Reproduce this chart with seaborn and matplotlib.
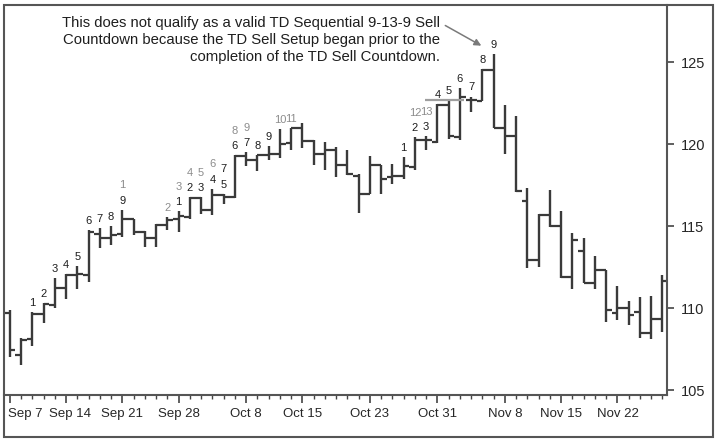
import numpy as np
import pandas as pd
import seaborn as sns
import matplotlib
matplotlib.use("Agg")
import matplotlib.pyplot as plt
from matplotlib.patches import Rectangle

# daily OHLC, one entry per trading day
opens = [109.69, 107.13, 108.09, 109.63, 110.18, 111.25, 112.00, 112.00, 114.54, 114.30,
         114.50, 115.41, 114.64, 114.30, 115.05, 115.44, 115.55, 116.74, 116.00, 116.88,
         116.77, 119.27, 119.05, 119.31, 119.37, 120.06, 120.97, 120.18, 119.37, 119.66,
         118.70, 118.03, 116.98, 118.70, 117.99, 118.05, 118.60, 120.23, 120.12, 122.36,
         120.43, 122.70, 122.62, 124.53, 121.00, 120.47, 116.53, 112.92, 115.66, 114.99,
         111.90, 113.48, 111.53, 112.35, 109.71, 110.01, 109.77, 108.45, 109.34]
highs = [109.91, 108.17, 109.77, 110.28, 111.86, 112.05, 112.55, 114.74, 114.88, 114.99,
         116.00, 115.46, 114.68, 115.11, 115.55, 115.90, 116.77, 116.77, 117.28, 116.98,
         119.31, 119.51, 119.35, 119.86, 120.94, 121.00, 121.28, 120.27, 120.12, 119.82,
         119.66, 118.20, 119.25, 118.70, 118.81, 119.21, 120.43, 120.47, 122.42, 122.66,
         123.44, 122.90, 124.59, 125.52, 122.36, 121.69, 117.34, 115.72, 117.22, 115.90,
         114.58, 114.30, 113.16, 112.35, 111.33, 110.44, 110.68, 110.72, 112.00]
lows = [107.01, 106.52, 107.68, 109.10, 109.98, 110.58, 111.19, 111.60, 113.67, 113.83,
        114.34, 114.44, 113.73, 113.73, 114.74, 114.65, 115.46, 115.72, 115.66, 116.33,
        116.74, 118.64, 118.34, 119.00, 119.17, 119.62, 119.78, 118.70, 118.40, 117.99,
        118.10, 115.78, 116.94, 116.94, 117.59, 117.89, 118.44, 119.62, 120.06, 120.33,
        120.27, 121.95, 122.62, 120.96, 119.42, 117.08, 112.47, 112.51, 114.95, 111.86,
        111.19, 111.50, 111.19, 109.16, 109.26, 108.96, 108.15, 108.09, 108.55]
closes = [107.44, 108.08, 109.63, 110.22, 111.25, 112.00, 112.05, 114.64, 114.30, 114.44,
          115.41, 114.64, 114.30, 115.05, 115.40, 115.63, 116.74, 116.00, 116.92, 116.77,
          119.25, 119.05, 119.35, 119.42, 120.02, 120.97, 120.18, 119.37, 119.66, 118.70,
          118.20, 116.95, 118.70, 117.89, 118.05, 118.66, 120.23, 120.23, 122.36, 120.47,
          122.86, 122.66, 124.53, 120.99, 120.47, 117.12, 112.92, 115.66, 114.99, 111.90,
          114.14, 111.53, 112.35, 109.87, 110.01, 109.57, 108.45, 109.34, 111.66]

date_ticks = [0, 5, 10, 15, 21, 26, 32, 38, 44, 49, 54]
date_labels = ["Sep 7", "Sep 14", "Sep 21", "Sep 28", "Oct 8", "Oct 15",
               "Oct 23", "Oct 31", "Nov 8", "Nov 15", "Nov 22"]

# TD Setup counts (black)
setup_bars = [2, 3, 4, 5, 6, 7, 8, 9, 10,
              15, 16, 17, 18, 19, 20, 21, 22, 23,
              35, 36, 37, 38, 39, 40, 41, 42, 43]
setup_nums = ["1", "2", "3", "4", "5", "6", "7", "8", "9",
              "1", "2", "3", "4", "5", "6", "7", "8", "9",
              "1", "2", "3", "4", "5", "6", "7", "8", "9"]
# TD Countdown counts (grey)
cd_bars = [10, 14, 15, 16, 17, 18, 19, 20, 21, 24, 25, 36, 37]
cd_nums = ["1", "2", "3", "4", "5", "6", "7", "8", "9", "10", "11", "12", "13"]
cd_dark = [19]

level = 122.68  # grey reference line
level_span = [36.9, 40.4]

note = ("This does not qualify as a valid TD Sequential 9-13-9 Sell\n"
        "Countdown because the TD Sell Setup began prior to the\n"
        "completion of the TD Sell Countdown.")

sns.set_style("white")
plt.rcParams['font.family'] = ['Liberation Sans', 'DejaVu Sans']

df = pd.DataFrame({"open": opens, "high": highs, "low": lows, "close": closes})
df["x"] = np.arange(len(df))

fig = plt.figure(figsize=(7.16, 4.4), dpi=100)
ax = fig.add_axes([4.5 / 716, 45 / 440, 662.5 / 716, 390 / 440])

bar_color = "#3a3a3a"
ax.vlines(df["x"], df["low"], df["high"], color=bar_color, lw=1.7)
ax.hlines(df["open"], df["x"] - 0.5, df["x"], color=bar_color, lw=1.6)
ax.hlines(df["close"], df["x"], df["x"] + 0.5, color=bar_color, lw=1.6)
ax.hlines(level, level_span[0], level_span[1], color="#9e9e9e", lw=1.6)

for b, n in zip(setup_bars, setup_nums):
    ax.annotate(n, (b, df["high"][b]), xytext=(0, 6.5), textcoords="offset points",
                ha="center", va="center", fontsize=8, color="#1e1e1e")
for b, n in zip(cd_bars, cd_nums):
    off = 17.5 if b in setup_bars else 6.5
    col = "#1e1e1e" if b in cd_dark else "#8c8c8c"
    ax.annotate(n, (b, df["high"][b]), xytext=(0, off), textcoords="offset points",
                ha="center", va="center", fontsize=8, color=col)

ax.text(38.24, 127.8, note, ha="right", va="top", multialignment="right",
        fontsize=10.7, color="#1e1e1e", linespacing=1.28)
ax.annotate("", xy=(41.9, 126.0), xytext=(38.7, 127.23),
            arrowprops=dict(arrowstyle="-|>", color="#7a7a7a", lw=1.1,
                            mutation_scale=10, shrinkA=0, shrinkB=0))

ax.set_xlim(-0.47, 58.4)
ax.set_ylim(104.70, 128.48)
ax.yaxis.tick_right()
ax.set_yticks([105, 110, 115, 120, 125])
ax.set_xticks(date_ticks)
# first two labels are nudged by hand (as in the original), the rest sit on their ticks
ax.set_xticklabels([""] * 2 + date_labels[2:])
ax.set_xticks(df["x"], minor=True)
xtr = ax.get_xaxis_transform()
ax.text(date_ticks[0] - 0.2, -0.034, date_labels[0], transform=xtr, ha="left", va="top",
        fontsize=9.5, color="#262626")
ax.text(date_ticks[1] + 0.37, -0.034, date_labels[1], transform=xtr, ha="center", va="top",
        fontsize=9.5, color="#262626")
ax.tick_params(axis="y", direction="out", length=4.8, width=1.2, color="#444444",
               labelsize=10.5, pad=5, right=True, left=False)
ax.tick_params(axis="x", which="major", direction="out", length=5.8, width=1.2,
               color="#444444", labelsize=9.5, pad=3.5, bottom=True)
ax.tick_params(axis="x", which="minor", direction="out", length=3, width=1.0,
               color="#444444", bottom=True)
for s in ["top", "left"]:
    ax.spines[s].set_visible(False)
for s in ["bottom", "right"]:
    ax.spines[s].set_color("#555555")
    ax.spines[s].set_linewidth(1.5)
ax.set_xlabel("")
ax.set_ylabel("")

fig.patches.append(Rectangle((4 / 716, 3 / 440), 709 / 716, 432 / 440,
                             transform=fig.transFigure, fill=False,
                             edgecolor="#555555", lw=1.5))

fig.savefig("out.png", dpi=100)
